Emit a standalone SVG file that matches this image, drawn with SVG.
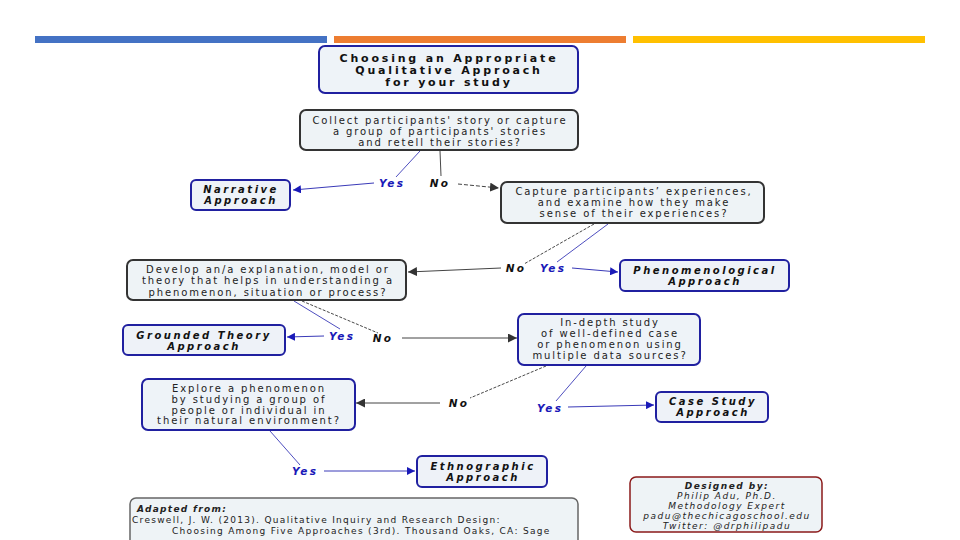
<svg xmlns="http://www.w3.org/2000/svg" width="960" height="540" viewBox="0 0 960 540">
<defs>
<style>
.t{font-family:"DejaVu Sans",Verdana,sans-serif;font-size:10px;letter-spacing:1.9px;fill:#222;text-anchor:middle}
.tt{font-family:"DejaVu Sans",Verdana,sans-serif;font-size:11px;letter-spacing:2.8px;font-weight:bold;fill:#111;text-anchor:middle}
.a{font-family:"DejaVu Sans",Verdana,sans-serif;font-size:10px;letter-spacing:2.5px;font-weight:bold;font-style:italic;fill:#111;text-anchor:middle}
.yes{font-family:"DejaVu Sans",Verdana,sans-serif;font-size:10.5px;letter-spacing:2.2px;font-weight:bold;font-style:italic;fill:#1a1ab8;text-anchor:middle}
.no{font-family:"DejaVu Sans",Verdana,sans-serif;font-size:10.5px;letter-spacing:2.2px;font-weight:bold;font-style:italic;fill:#111;text-anchor:middle}
.q{fill:#eef3f6;stroke:#333;stroke-width:2}
.qb{fill:#eef3f8;stroke:#2020a0;stroke-width:2}
.ap{fill:#eef2f8;stroke:#2020a0;stroke-width:2}
.lb{stroke:#3a3ab8;stroke-width:0.9;fill:none}
.lk{stroke:#333;stroke-width:0.9;fill:none}
.ab{stroke:#3a3ab8;stroke-width:1;fill:none;marker-end:url(#mb)}
.ak{stroke:#444;stroke-width:1;fill:none;marker-end:url(#mk)}
.sm{font-family:"DejaVu Sans",Verdana,sans-serif;font-size:9px;letter-spacing:1.3px;fill:#222}
.ds{font-family:"DejaVu Sans",Verdana,sans-serif;font-size:9px;letter-spacing:1.5px;font-style:italic;fill:#222;text-anchor:middle}
</style>
<marker id="mb" viewBox="0 0 10 10" refX="10" refY="5" markerWidth="8" markerHeight="8" orient="auto" markerUnits="userSpaceOnUse"><path d="M0,0 L10,5 L0,10 z" fill="#1a1ab8"/></marker>
<marker id="mk" viewBox="0 0 10 10" refX="10" refY="5" markerWidth="9" markerHeight="9" orient="auto" markerUnits="userSpaceOnUse"><path d="M0,0 L10,5 L0,10 z" fill="#333"/></marker>
</defs>
<rect width="960" height="540" fill="#fff"/>
<g id="bars">
<rect x="35" y="36" width="292" height="7" fill="#4472c4"/>
<rect x="334" y="36" width="292" height="7" fill="#ed7d31"/>
<rect x="633" y="36" width="292" height="7" fill="#ffc000"/>
</g>
<g id="connectors">
<line class="lb" x1="420" y1="151" x2="396" y2="177"/>
<path class="ab" d="M374,183 L293,190"/>
<line class="lk" x1="440" y1="151" x2="441" y2="176"/>
<path class="ak" d="M458,184 L499,188" stroke-dasharray="4,2"/>
<line class="lb" x1="608" y1="224" x2="557" y2="262"/>
<path class="ab" d="M572,268 L618,272"/>
<line class="lk" x1="594" y1="224" x2="524" y2="264" stroke-dasharray="3,1.5"/>
<path class="ak" d="M501,268 L408,272"/>
<line class="lb" x1="294" y1="301" x2="340" y2="329"/>
<path class="ab" d="M324,336 L287,337"/>
<line class="lk" x1="302" y1="301" x2="378" y2="333" stroke-dasharray="3,1.5"/>
<path class="ak" d="M402,338 L517,338"/>
<line class="lk" x1="546" y1="366" x2="470" y2="398" stroke-dasharray="3,1.5"/>
<path class="ak" d="M440,403 L356,403"/>
<line class="lb" x1="586" y1="366" x2="556" y2="401"/>
<path class="ab" d="M568,407 L654,405" stroke="#dcdcf0"/>
<line class="lb" x1="270" y1="431" x2="300" y2="465"/>
<path class="ab" d="M324,471 L415,471"/>
</g>
<g id="labels">
<text class="yes" x="392" y="187">Yes</text>
<text class="no" x="440" y="187">No</text>
<text class="no" x="516" y="272">No</text>
<text class="yes" x="553" y="272">Yes</text>
<text class="yes" x="342" y="340">Yes</text>
<text class="no" x="383" y="342">No</text>
<text class="no" x="459" y="407">No</text>
<text class="yes" x="550" y="412">Yes</text>
<text class="yes" x="305" y="475">Yes</text>
</g>
<g id="title">
<rect class="qb" x="319" y="46" width="259" height="47" rx="6"/>
<text class="tt" x="449" y="62">Choosing an Appropriate</text>
<text class="tt" x="449" y="74">Qualitative Approach</text>
<text class="tt" x="449" y="86">for your study</text>
</g>
<g id="collect">
<rect class="q" x="300" y="110" width="278" height="40" rx="6"/>
<text class="t" x="440" y="124">Collect participants' story or capture</text>
<text class="t" x="440" y="135">a group of participants' stories</text>
<text class="t" x="440" y="146">and retell their stories?</text>
</g>
<g id="narrative">
<rect class="ap" x="191" y="180" width="99" height="30" rx="5"/>
<text class="a" x="241" y="193">Narrative</text>
<text class="a" x="241" y="204">Approach</text>
</g>
<g id="capture">
<rect class="q" x="501" y="182" width="263" height="41" rx="6"/>
<text class="t" x="634" y="195">Capture participants’ experiences,</text>
<text class="t" x="634" y="206">and examine how they make</text>
<text class="t" x="634" y="217">sense of their experiences?</text>
</g>
<g id="develop">
<rect class="q" x="127" y="260" width="279" height="40" rx="6"/>
<text class="t" x="268" y="273">Develop an/a explanation, model or</text>
<text class="t" x="268" y="284">theory that helps in understanding a</text>
<text class="t" x="268" y="296">phenomenon, situation or process?</text>
</g>
<g id="phenomenological">
<rect class="ap" x="620" y="260" width="169" height="31" rx="5"/>
<text class="a" x="705" y="274">Phenomenological</text>
<text class="a" x="705" y="285">Approach</text>
</g>
<g id="grounded">
<rect class="ap" x="123" y="325" width="162" height="30" rx="5"/>
<text class="a" x="204" y="339">Grounded Theory</text>
<text class="a" x="204" y="350">Approach</text>
</g>
<g id="indepth">
<rect class="qb" x="518" y="314" width="182" height="51" rx="6"/>
<text class="t" x="610" y="326">In-depth study</text>
<text class="t" x="610" y="337">of well-defined case</text>
<text class="t" x="610" y="348">or phenomenon using</text>
<text class="t" x="610" y="359">multiple data sources?</text>
</g>
<g id="explore">
<rect class="qb" x="142" y="379" width="213" height="51" rx="6"/>
<text class="t" x="249" y="392">Explore a phenomenon</text>
<text class="t" x="249" y="403">by studying a group of</text>
<text class="t" x="249" y="414">people or individual in</text>
<text class="t" x="249" y="424">their natural environment?</text>
</g>
<g id="casestudy">
<rect class="ap" x="656" y="392" width="112" height="30" rx="5"/>
<text class="a" x="713" y="405">Case Study</text>
<text class="a" x="713" y="416">Approach</text>
</g>
<g id="ethnographic">
<rect class="ap" x="417" y="456" width="130" height="31" rx="5"/>
<text class="a" x="483" y="470">Ethnographic</text>
<text class="a" x="483" y="481">Approach</text>
</g>
<g id="adapted">
<rect x="130" y="498" width="448" height="52" rx="6" fill="#eef3f6" stroke="#666" stroke-width="1.5"/>
<text class="sm" x="137" y="512" font-weight="bold" font-style="italic">Adapted from:</text>
<text class="sm" x="132" y="523">Creswell, J. W. (2013). Qualitative Inquiry and Research Design:</text>
<text class="sm" x="172" y="534">Choosing Among Five Approaches (3rd). Thousand Oaks, CA: Sage</text>
</g>
<g id="designed">
<rect x="630" y="477" width="192" height="55" rx="6" fill="#eef3f6" stroke="#8b1a1a" stroke-width="1.5"/>
<text class="ds" x="727" y="489" font-weight="bold">Designed by:</text>
<text class="ds" x="727" y="499">Philip Adu, Ph.D.</text>
<text class="ds" x="727" y="509">Methodology Expert</text>
<text class="ds" x="727" y="519">padu@thechicagoschool.edu</text>
<text class="ds" x="727" y="529">Twitter: @drphilipadu</text>
</g>
</svg>
